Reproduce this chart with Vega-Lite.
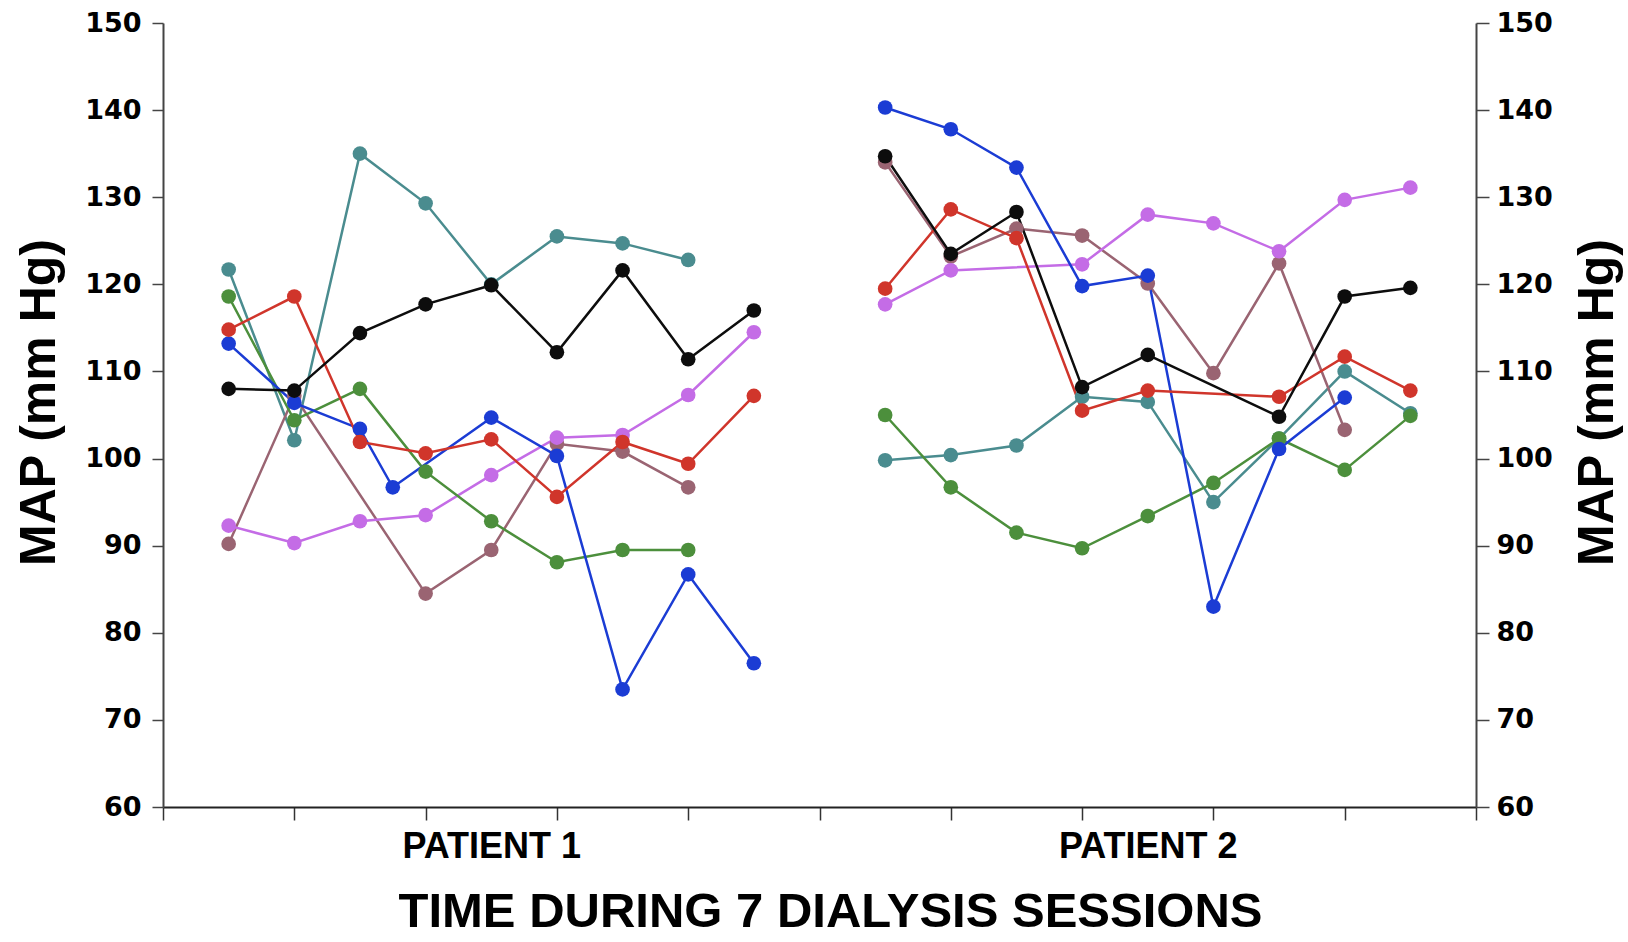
{
  "$schema": "https://vega.github.io/schema/vega-lite/v6.json",
  "width": 1313,
  "height": 784,
  "autosize": {"type": "none"},
  "padding": {"left": 163, "top": 23, "right": 152, "bottom": 135},
  "background": "white",
  "config": {"view": {"stroke": null}},
  "data": {"values": [
    {"p":1,"s":"teal","t":1,"v":121.7},{"p":1,"s":"teal","t":2,"v":102.1},{"p":1,"s":"teal","t":3,"v":135.0},{"p":1,"s":"teal","t":4,"v":129.3},{"p":1,"s":"teal","t":5,"v":120.0},{"p":1,"s":"teal","t":6,"v":125.5},{"p":1,"s":"teal","t":7,"v":124.7},{"p":1,"s":"teal","t":8,"v":122.8},
    {"p":2,"s":"teal","t":11,"v":99.8},{"p":2,"s":"teal","t":12,"v":100.4},{"p":2,"s":"teal","t":13,"v":101.5},{"p":2,"s":"teal","t":14,"v":107.1},{"p":2,"s":"teal","t":15,"v":106.5},{"p":2,"s":"teal","t":16,"v":95.0},{"p":2,"s":"teal","t":17,"v":102.3},{"p":2,"s":"teal","t":18,"v":110.0},{"p":2,"s":"teal","t":19,"v":105.2},
    {"p":1,"s":"mauve","t":1,"v":90.2},{"p":1,"s":"mauve","t":2,"v":107.2},{"p":1,"s":"mauve","t":4,"v":84.5},{"p":1,"s":"mauve","t":5,"v":89.5},{"p":1,"s":"mauve","t":6,"v":101.7},{"p":1,"s":"mauve","t":7,"v":100.8},{"p":1,"s":"mauve","t":8,"v":96.7},
    {"p":2,"s":"mauve","t":11,"v":134.0},{"p":2,"s":"mauve","t":12,"v":123.2},{"p":2,"s":"mauve","t":13,"v":126.4},{"p":2,"s":"mauve","t":14,"v":125.6},{"p":2,"s":"mauve","t":15,"v":120.1},{"p":2,"s":"mauve","t":16,"v":109.8},{"p":2,"s":"mauve","t":17,"v":122.4},{"p":2,"s":"mauve","t":18,"v":103.3},
    {"p":1,"s":"violet","t":1,"v":92.3},{"p":1,"s":"violet","t":2,"v":90.3},{"p":1,"s":"violet","t":3,"v":92.8},{"p":1,"s":"violet","t":4,"v":93.5},{"p":1,"s":"violet","t":5,"v":98.1},{"p":1,"s":"violet","t":6,"v":102.4},{"p":1,"s":"violet","t":7,"v":102.7},{"p":1,"s":"violet","t":8,"v":107.3},{"p":1,"s":"violet","t":9,"v":114.5},
    {"p":2,"s":"violet","t":11,"v":117.7},{"p":2,"s":"violet","t":12,"v":121.6},{"p":2,"s":"violet","t":14,"v":122.3},{"p":2,"s":"violet","t":15,"v":128.0},{"p":2,"s":"violet","t":16,"v":127.0},{"p":2,"s":"violet","t":17,"v":123.8},{"p":2,"s":"violet","t":18,"v":129.7},{"p":2,"s":"violet","t":19,"v":131.1},
    {"p":1,"s":"green","t":1,"v":118.6},{"p":1,"s":"green","t":2,"v":104.4},{"p":1,"s":"green","t":3,"v":108.0},{"p":1,"s":"green","t":4,"v":98.5},{"p":1,"s":"green","t":5,"v":92.8},{"p":1,"s":"green","t":6,"v":88.1},{"p":1,"s":"green","t":7,"v":89.5},{"p":1,"s":"green","t":8,"v":89.5},
    {"p":2,"s":"green","t":11,"v":105.0},{"p":2,"s":"green","t":12,"v":96.7},{"p":2,"s":"green","t":13,"v":91.5},{"p":2,"s":"green","t":14,"v":89.7},{"p":2,"s":"green","t":15,"v":93.4},{"p":2,"s":"green","t":16,"v":97.2},{"p":2,"s":"green","t":17,"v":102.3},{"p":2,"s":"green","t":18,"v":98.7},{"p":2,"s":"green","t":19,"v":104.9},
    {"p":1,"s":"blue","t":1,"v":113.2},{"p":1,"s":"blue","t":2,"v":106.4},{"p":1,"s":"blue","t":3,"v":103.4},{"p":1,"s":"blue","t":3.5,"v":96.7},{"p":1,"s":"blue","t":5,"v":104.7},{"p":1,"s":"blue","t":6,"v":100.3},{"p":1,"s":"blue","t":7,"v":73.5},{"p":1,"s":"blue","t":8,"v":86.7},{"p":1,"s":"blue","t":9,"v":76.5},
    {"p":2,"s":"blue","t":11,"v":140.3},{"p":2,"s":"blue","t":12,"v":137.8},{"p":2,"s":"blue","t":13,"v":133.4},{"p":2,"s":"blue","t":14,"v":119.8},{"p":2,"s":"blue","t":15,"v":121.0},{"p":2,"s":"blue","t":16,"v":83.0},{"p":2,"s":"blue","t":17,"v":101.1},{"p":2,"s":"blue","t":18,"v":107.0},
    {"p":1,"s":"red","t":1,"v":114.8},{"p":1,"s":"red","t":2,"v":118.6},{"p":1,"s":"red","t":3,"v":101.9},{"p":1,"s":"red","t":4,"v":100.6},{"p":1,"s":"red","t":5,"v":102.2},{"p":1,"s":"red","t":6,"v":95.6},{"p":1,"s":"red","t":7,"v":101.9},{"p":1,"s":"red","t":8,"v":99.4},{"p":1,"s":"red","t":9,"v":107.2},
    {"p":2,"s":"red","t":11,"v":119.5},{"p":2,"s":"red","t":12,"v":128.6},{"p":2,"s":"red","t":13,"v":125.3},{"p":2,"s":"red","t":14,"v":105.5},{"p":2,"s":"red","t":15,"v":107.8},{"p":2,"s":"red","t":17,"v":107.1},{"p":2,"s":"red","t":18,"v":111.7},{"p":2,"s":"red","t":19,"v":107.8},
    {"p":1,"s":"black","t":1,"v":108.0},{"p":1,"s":"black","t":2,"v":107.8},{"p":1,"s":"black","t":3,"v":114.4},{"p":1,"s":"black","t":4,"v":117.7},{"p":1,"s":"black","t":5,"v":119.9},{"p":1,"s":"black","t":6,"v":112.2},{"p":1,"s":"black","t":7,"v":121.6},{"p":1,"s":"black","t":8,"v":111.4},{"p":1,"s":"black","t":9,"v":117.0},
    {"p":2,"s":"black","t":11,"v":134.7},{"p":2,"s":"black","t":12,"v":123.5},{"p":2,"s":"black","t":13,"v":128.3},{"p":2,"s":"black","t":14,"v":108.2},{"p":2,"s":"black","t":15,"v":111.9},{"p":2,"s":"black","t":17,"v":104.8},{"p":2,"s":"black","t":18,"v":118.6},{"p":2,"s":"black","t":19,"v":119.6}
  ]},
  "encoding": {
    "x": {
      "field": "t", "type": "quantitative",
      "scale": {"domain": [0, 20], "nice": false, "zero": false},
      "axis": {
        "values": [0, 2, 4, 5, 6, 8, 10, 12, 14, 15, 16, 18, 20],
        "labelExpr": "datum.value == 5 ? 'PATIENT 1' : (datum.value == 15 ? 'PATIENT 2' : '')",
        "tickOpacity": {"condition": {"test": "datum.value == 5 || datum.value == 15", "value": 0}, "value": 1},
        "labelOverlap": false, "labelFlush": false, "labelBound": false,
        "grid": false,
        "tickSize": 13, "tickWidth": 1.5, "tickColor": "#333",
        "domainColor": "#222", "domainWidth": 2,
        "labelFont": "Liberation Sans", "labelFontWeight": "bold", "labelFontSize": 36, "labelColor": "black",
        "labelPadding": 9,
        "title": "TIME DURING 7 DIALYSIS SESSIONS",
        "titleFont": "Liberation Sans", "titleFontWeight": "bold", "titleFontSize": 49, "titleColor": "black",
        "titleX": 667,
        "titlePadding": 23
      }
    },
    "color": {
      "field": "s", "type": "nominal", "legend": null,
      "scale": {
        "domain": ["teal", "mauve", "violet", "green", "blue", "red", "black"],
        "range": ["#4a8c8f", "#9a6472", "#c46ce6", "#4c8f3c", "#1b3cd4", "#d0352b", "#0d0d0d"]
      }
    },
    "detail": {"field": "p", "type": "nominal"}
  },
  "layer": [
    {
      "mark": {"type": "line", "strokeWidth": 2.5},
      "encoding": {
        "y": {
          "field": "v", "type": "quantitative",
          "scale": {"domain": [60, 150], "nice": false, "zero": false},
          "axis": {
            "orient": "left",
            "values": [60, 70, 80, 90, 100, 110, 120, 130, 140, 150],
            "grid": false,
            "tickSize": 11, "tickWidth": 1.5, "tickColor": "#444",
            "domainColor": "#444", "domainWidth": 2,
            "labelFont": "DejaVu Sans", "labelFontWeight": "bold", "labelFontSize": 27, "labelColor": "black",
            "labelPadding": 11,
            "title": "MAP (mm Hg)",
            "titleFont": "Liberation Sans", "titleFontWeight": "bold", "titleFontSize": 50, "titleColor": "black",
            "titleY": 379,
            "titlePadding": 20
          }
        }
      }
    },
    {
      "mark": {"type": "point", "filled": true, "size": 215, "opacity": 1},
      "encoding": {
        "y": {
          "field": "v", "type": "quantitative",
          "scale": {"domain": [60, 150], "nice": false, "zero": false},
          "axis": {
            "orient": "right",
            "values": [60, 70, 80, 90, 100, 110, 120, 130, 140, 150],
            "grid": false,
            "tickSize": 13, "tickWidth": 1.5, "tickColor": "#444",
            "domainColor": "#444", "domainWidth": 2,
            "labelFont": "DejaVu Sans", "labelFontWeight": "bold", "labelFontSize": 27, "labelColor": "black",
            "labelPadding": 7,
            "title": "MAP (mm Hg)",
            "titleAngle": 270,
            "titleBaseline": "top",
            "titleFont": "Liberation Sans", "titleFontWeight": "bold", "titleFontSize": 50, "titleColor": "black",
            "titleY": 379,
            "titlePadding": 20
          }
        }
      }
    }
  ],
  "resolve": {"axis": {"y": "independent"}}
}
